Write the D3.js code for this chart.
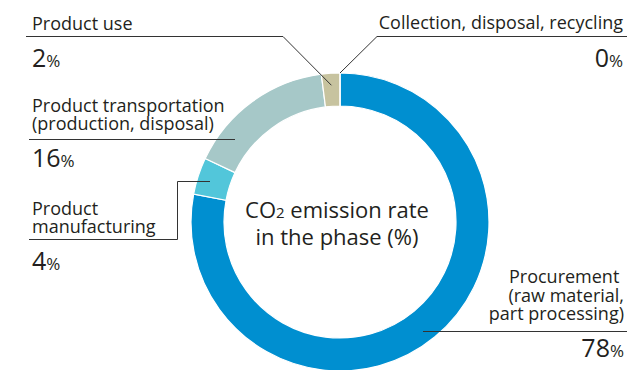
<!DOCTYPE html>
<html>
<head>
<meta charset="utf-8">
<script src="https://cdn.jsdelivr.net/npm/d3@7"></script>
<style>
  html, body { margin: 0; padding: 0; background: #fff; }
  svg text { font-family: "Open Sans", "Noto Sans", sans-serif; fill: #231f20; }
</style>
</head>
<body>
<svg id="chart" width="627" height="370"></svg>
<script>
// Life-cycle phases, clockwise from 12 o'clock
const phases = [
  "Procurement (raw material, part processing)",
  "Product manufacturing",
  "Product transportation (production, disposal)",
  "Product use",
  "Collection, disposal, recycling"
];
const shares = [78, 4, 16, 2, 0];
const colors = ["#008fd0", "#52c6da", "#a6c8c8", "#c7c39f", "#c7c39f"];

const svg = d3.select("#chart");
const cx = 340, cy = 222, rOuter = 149, rInner = 116;

const pie = d3.pie().sort(null).value(d => d).startAngle(0).endAngle(2 * Math.PI);
const arcs = pie(shares);
const arc = d3.arc().innerRadius(rInner).outerRadius(rOuter);

const g = svg.append("g").attr("transform", `translate(${cx},${cy})`);
g.selectAll("path.slice")
  .data(arcs)
  .join("path")
  .attr("class", "slice")
  .attr("d", arc)
  .attr("fill", (d, i) => colors[i])
  .attr("stroke", "#fff")
  .attr("stroke-width", 1.2);

// point on the ring at a given slice's mid angle and radius
function ringPoint(i, r) {
  const a = (arcs[i].startAngle + arcs[i].endAngle) / 2;
  return [cx + r * Math.sin(a), cy - r * Math.cos(a)];
}

// centre caption
const cap = svg.append("text").attr("text-anchor", "middle").attr("font-size", 22);
const l1 = cap.append("tspan").attr("x", cx - 3).attr("y", 218);
l1.append("tspan").text("CO");
l1.append("tspan").attr("font-size", 15).text("2");
l1.append("tspan").text(" emission rate");
cap.append("tspan").attr("x", cx - 3).attr("y", 245).text("in the phase (%)");

const lineStyle = sel => sel.attr("fill", "none").attr("stroke", "#333").attr("stroke-width", 1);

// label block: lines of name text, then a value with a small % sign
function label(lines, value, x, y0, lh, valueY, anchor) {
  const t = svg.append("text").attr("text-anchor", anchor).attr("font-size", 18);
  lines.forEach((s, k) => t.append("tspan").attr("x", x).attr("y", y0 + k * lh).text(s));
  const v = svg.append("text").attr("text-anchor", anchor).attr("x", x).attr("y", valueY);
  v.append("tspan").attr("font-size", 25).text(value);
  v.append("tspan").attr("font-size", 17).text("%");
}

// Product use
label(["Product use"], shares[3], 32, 30, 18, 67, "start");
{
  const p = ringPoint(3, 137);
  svg.append("polyline").call(lineStyle)
    .attr("points", [[26, 36.5], [283, 36.5], p].map(q => q.join(",")).join(" "));
}

// Collection, disposal, recycling (zero share: leader ends at its boundary)
label(["Collection, disposal, recycling"], shares[4], 623, 29, 18, 67, "end");
{
  const a = arcs[4].startAngle;
  const p = [cx + rOuter * Math.sin(a), cy - rOuter * Math.cos(a)];
  svg.append("polyline").call(lineStyle)
    .attr("points", [[627, 36.5], [377, 36.5], p].map(q => q.join(",")).join(" "));
}

// Product transportation
label(["Product transportation", "(production, disposal)"], shares[2], 32, 112, 17.5, 167, "start");
svg.append("polyline").call(lineStyle)
  .attr("points", "29,139.5 235,139.5");

// Product manufacturing
label(["Product", "manufacturing"], shares[1], 32, 215, 17.5, 270, "start");
svg.append("polyline").call(lineStyle)
  .attr("points", "29,239.5 177.5,239.5 177.5,181.5 210,181.5");

// Procurement
label(["Procurement ", "(raw material,", "part processing)"], shares[0], 624, 283, 18.5, 357, "end");
svg.append("polyline").call(lineStyle)
  .attr("points", "423,331.5 627,331.5");
</script>
</body>
</html>
